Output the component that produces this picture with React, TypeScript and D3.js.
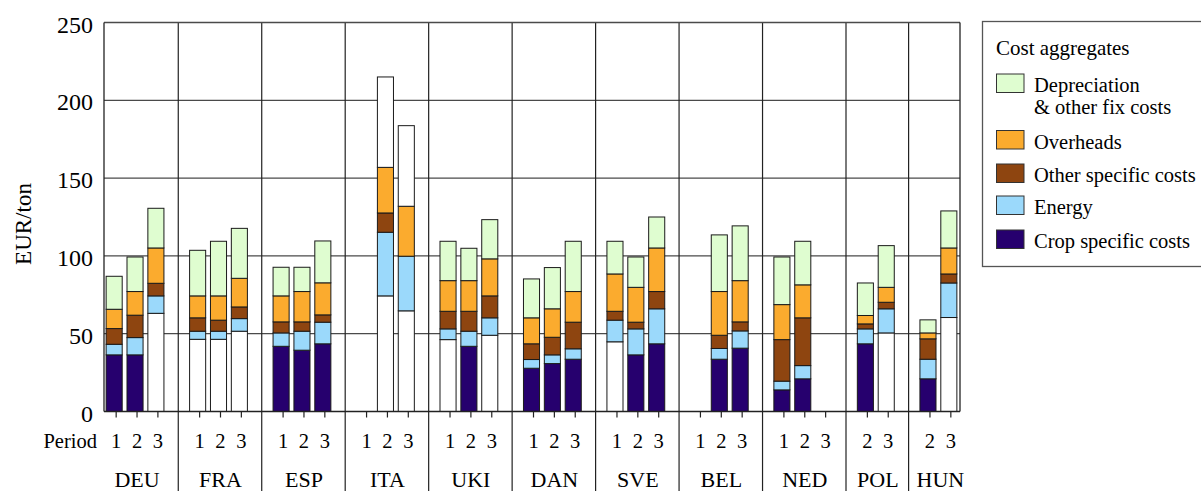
import * as d3 from "d3";

// countries and the periods reported for each
const countries = ["DEU", "FRA", "ESP", "ITA", "UKI", "DAN", "SVE", "BEL", "NED", "POL", "HUN"];
const periods = [
  ["1", "2", "3"], ["1", "2", "3"], ["1", "2", "3"], ["1", "2", "3"], ["1", "2", "3"],
  ["1", "2", "3"], ["1", "2", "3"], ["1", "2", "3"], ["1", "2", "3"], ["2", "3"], ["2", "3"],
];

// EUR/ton per cost aggregate, one entry per country/period (null = no bar)
const crop = [36.4, 36.4, 63.1, 46.4, 46.4, 51.6, 41.9, 39.4, 43.5, null, 74.3, 64.7, 46.2, 41.9, 49.0, 27.8, 30.8, 33.6, 44.8, 36.4, 43.5, null, 33.6, 40.7, 13.9, 21.0, null, 43.5, 50.5, 21.0, 60.4];
const energy = [6.8, 11.1, 11.2, 5.2, 5.2, 8.1, 8.6, 12.2, 13.9, null, 40.9, 35.1, 6.9, 9.7, 11.2, 5.6, 5.6, 6.7, 13.9, 16.7, 22.5, null, 6.9, 11.1, 5.6, 8.5, null, 9.6, 15.5, 12.6, 22.2];
const otherSpecific = [10.1, 14.4, 8.1, 8.6, 7.1, 7.5, 7.1, 6.0, 4.7, null, 12.4, 0, 11.3, 12.8, 14.1, 10.1, 11.3, 17.1, 5.7, 4.3, 11.1, null, 8.5, 5.8, 26.7, 30.7, null, 3.2, 4.2, 13.1, 5.8];
const overheads = [12.4, 15.2, 22.7, 14.1, 15.6, 18.4, 16.7, 19.5, 20.6, null, 29.3, 32.1, 19.7, 19.7, 23.8, 16.7, 18.3, 19.7, 24.0, 22.4, 28.0, null, 28.1, 26.5, 22.5, 21.2, null, 5.4, 9.6, 3.8, 16.7];
const depreciation = [21.2, 22.2, 25.5, 29.3, 35.1, 32.1, 18.4, 15.6, 26.9, null, 58.1, 51.8, 25.3, 20.8, 25.2, 25.0, 26.5, 32.3, 21.0, 19.5, 19.9, null, 36.4, 35.2, 30.6, 28.0, null, 20.9, 26.8, 8.4, 23.8];

// bars where a component is not broken down (drawn unfilled)
const cropNotSplit = ["DEU-3", "FRA-1", "FRA-2", "FRA-3", "ITA-2", "ITA-3", "UKI-1", "UKI-3", "SVE-1", "POL-3", "HUN-3"];
const depreciationNotSplit = ["ITA-2", "ITA-3"];

const yTicks = [0, 50, 100, 150, 200, 250];

const keys = ["crop", "energy", "other", "overheads", "depreciation"];
const colors: Record<string, string> = {
  crop: "#26006e",
  energy: "#9bd9fb",
  other: "#8e4510",
  overheads: "#fbab2e",
  depreciation: "#dffdd0",
};
const legendItems = [
  { key: "depreciation", lines: ["Depreciation", "& other fix costs"] },
  { key: "overheads", lines: ["Overheads"] },
  { key: "other", lines: ["Other specific costs"] },
  { key: "energy", lines: ["Energy"] },
  { key: "crop", lines: ["Crop specific costs"] },
];

const width = 1201;
const height = 491;
const left = 104;
const right = 960;
const top = 22.5;
const bottom = 411.5;
const font = "Liberation Serif, DejaVu Serif, serif";

export default function App() {
  // one slot per bar, plus a spacer slot between countries
  const bars: { id: string; country: string; period: string }[] = [];
  const slots: string[] = [];
  countries.forEach((c, gi) => {
    periods[gi].forEach((p) => {
      bars.push({ id: `${c}-${p}`, country: c, period: p });
      slots.push(`${c}-${p}`);
    });
    if (gi < countries.length - 1) slots.push(`gap-${c}`);
  });

  const rows = bars.map((b, i) => ({
    ...b,
    crop: crop[i],
    energy: energy[i],
    other: otherSpecific[i],
    overheads: overheads[i],
    depreciation: depreciation[i],
  }));
  const present = rows.filter((r) => r.crop != null);
  const series = d3.stack<any>().keys(keys)(present);

  const x = d3.scaleBand<string>().domain(slots).range([103, right]).paddingInner(0.23).paddingOuter(0.15);
  const y = d3.scaleLinear().domain([0, 250]).range([bottom, top]);
  const bw = x.bandwidth();
  const tickX = (id: string) => (x(id) as number) + bw / 2 + 2;

  const separators = countries.slice(0, -1).map((c, gi) => {
    const last = `${c}-${periods[gi][periods[gi].length - 1]}`;
    const next = `${countries[gi + 1]}-${periods[gi + 1][0]}`;
    return ((x(last) as number) + bw + (x(next) as number)) / 2 + 1.5;
  });

  const fillFor = (key: string, id: string) => {
    if (key === "crop" && cropNotSplit.includes(id)) return "#ffffff";
    if (key === "depreciation" && depreciationNotSplit.includes(id)) return "#ffffff";
    return colors[key];
  };

  return (
    <svg
      width={width}
      height={height}
      style={{ position: "absolute", left: 0, top: 0, background: "#fff", fontFamily: font }}
    >
      {/* gridlines */}
      {yTicks.slice(1, -1).map((t) => (
        <line key={t} x1={left} x2={right} y1={y(t)} y2={y(t)} stroke="#4a4a4a" strokeWidth={1.3} />
      ))}
      {/* country separators */}
      {separators.map((sx, i) => (
        <line key={i} x1={sx} x2={sx} y1={top} y2={height} stroke="#222" strokeWidth={1.2} />
      ))}

      {/* bars */}
      {series.map((s) =>
        s.map((d: any) => {
          const id = d.data.id as string;
          const h = y(d[0]) - y(d[1]);
          if (h <= 0) return null;
          return (
            <rect
              key={`${s.key}-${id}`}
              x={x(id) as number}
              y={y(d[1])}
              width={bw}
              height={h}
              fill={fillFor(s.key as string, id)}
              stroke="#1a1a1a"
              strokeWidth={1}
            />
          );
        })
      )}

      {/* plot frame */}
      <line x1={left} x2={right} y1={top} y2={top} stroke="#4a4a4a" strokeWidth={1.3} />
      <line x1={left} x2={right} y1={bottom} y2={bottom} stroke="#222" strokeWidth={1.3} />
      <line x1={left} x2={left} y1={top} y2={bottom} stroke="#222" strokeWidth={1.3} />
      <line x1={right} x2={right} y1={top} y2={bottom} stroke="#222" strokeWidth={1.3} />

      {/* y axis labels */}
      {yTicks.map((t) => (
        <text key={t} x={93} y={y(t) + 10} textAnchor="end" fontSize={24} fill="#000">
          {t}
        </text>
      ))}
      <text transform={`translate(31,224) rotate(-90)`} textAnchor="middle" fontSize={23} fill="#000">
        EUR/ton
      </text>

      {/* period ticks and labels */}
      {bars.map((b) => (
        <g key={b.id}>
          <line x1={tickX(b.id)} x2={tickX(b.id)} y1={bottom} y2={bottom + 6} stroke="#222" strokeWidth={1.2} />
          <text x={tickX(b.id)} y={448} textAnchor="middle" fontSize={20.5} fill="#000">
            {b.period}
          </text>
        </g>
      ))}
      <text x={97} y={448} textAnchor="end" fontSize={20.5} fill="#000">
        Period
      </text>
      {countries.map((c, gi) => {
        const xs = periods[gi].map((p) => tickX(`${c}-${p}`));
        return (
          <text key={c} x={d3.mean(xs) as number} y={487} textAnchor="middle" fontSize={22} fill="#000">
            {c}
          </text>
        );
      })}

      {/* legend */}
      <rect x={982.5} y={21.5} width={240} height={245} fill="#fff" stroke="#555" strokeWidth={1.3} />
      <text x={996} y={55} fontSize={21} fill="#000">
        Cost aggregates
      </text>
      {legendItems.map((item, i) => {
        const baselines = [92, 148.5, 182, 214, 248];
        const by = baselines[i];
        return (
          <g key={item.key}>
            <rect x={996.5} y={by - 18} width={27.5} height={18.5} fill={colors[item.key]} stroke="#333" strokeWidth={1} />
            {item.lines.map((l, li) => (
              <text key={li} x={1034} y={by + li * 21.5} fontSize={20.5} fill="#000">
                {l}
              </text>
            ))}
          </g>
        );
      })}
    </svg>
  );
}
